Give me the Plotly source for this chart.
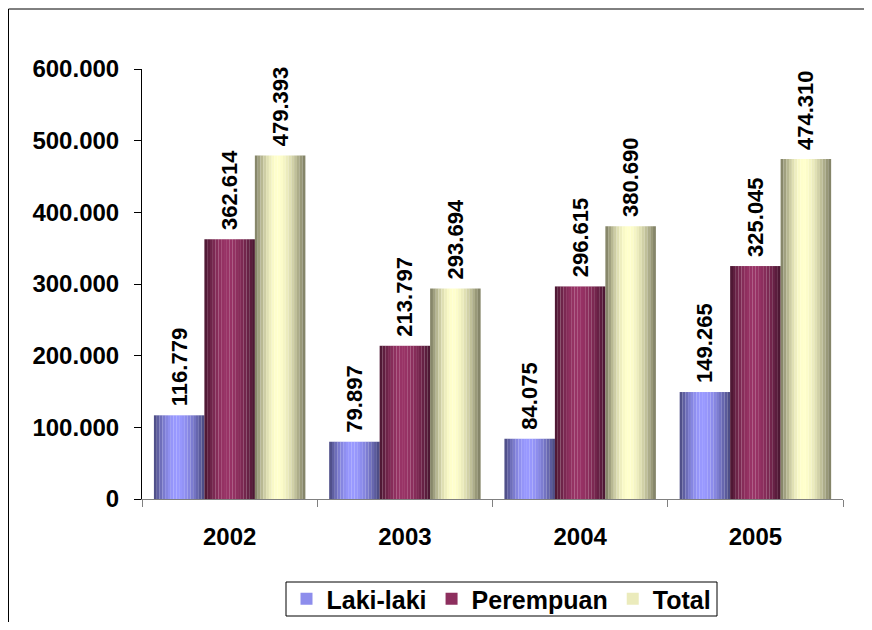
import math
import plotly.graph_objects as go

years = ["2002", "2003", "2004", "2005"]
series_names = ["Laki-laki", "Perempuan", "Total"]
laki = [116779, 79897, 84075, 149265]
perempuan = [362614, 213797, 296615, 325045]
total = [479393, 293694, 380690, 474310]
y_ticks = [0, 100000, 200000, 300000, 400000, 500000, 600000]

series_values = [laki, perempuan, total]
peak_colors = [(153, 153, 255), (153, 51, 102), (255, 255, 204)]
edge_colors = [(72, 72, 125), (72, 22, 48), (122, 122, 96)]

OFF = 8  # page body margin
W, H = 872 - 2 * OFF, 630 - 2 * OFF
PL, PR, PT, PB = 142 - OFF, 843 - OFF, 69 - OFF, 499 - OFF  # plot area, figure pixels


def px_x(p):  # page pixel -> paper x
    return (p - OFF - PL) / (PR - PL)


def px_y(p):  # page pixel -> paper y
    return (PB - (p - OFF)) / (PB - PT)


fig = go.Figure()

bw = 0.288
G = bw * 3
N = 18
peak = 0.45


def shade(t):
    d = (t - peak) / peak if t < peak else (t - peak) / (1 - peak)
    return 0.5 + 0.5 * math.cos(math.pi / 2 * d)


def mix(c0, c1, f):
    return "rgb(%d,%d,%d)" % tuple(round(a + (b - a) * f) for a, b in zip(c0, c1))


for s, (name, vals) in enumerate(zip(series_names, series_values)):
    start = -G / 2 + s * bw
    for k in range(N):
        t = (k + 0.5) / N
        f = (shade(t) - 0.5) / 0.5
        fig.add_trace(go.Bar(
            x=years, y=vals, offset=start + k * bw / N, width=bw / N * 1.02,
            marker=dict(color=mix(edge_colors[s], peak_colors[s], f), line=dict(width=0)),
            showlegend=False, hoverinfo="skip",
        ))
    # label trace
    fig.add_trace(go.Bar(
        x=years, y=vals, offset=start, width=bw, name=name,
        marker=dict(color="rgba(0,0,0,0)", line=dict(width=0)),
        text=vals, texttemplate="\u00a0%{y:,d}", textposition="outside", textangle=-90,
        constraintext="none", cliponaxis=False,
        textfont=dict(family="Liberation Sans, Arial", size=22, color="black", weight="bold"),
        showlegend=False,
    ))
    # legend entry
    fig.add_trace(go.Bar(
        x=[None], y=[None], name=name,
        marker=dict(color=mix(edge_colors[s], peak_colors[s], 0.85), line=dict(width=0)),
        showlegend=True,
    ))

# outer chart border (extends beyond the right/bottom of the window)
fig.add_shape(type="rect", xref="paper", yref="paper",
              x0=px_x(OFF + 0.5), x1=px_x(900), y0=px_y(9), y1=px_y(660),
              line=dict(color="black", width=1), fillcolor="rgba(0,0,0,0)", layer="below")
# legend box
fig.add_shape(type="rect", xref="paper", yref="paper",
              x0=px_x(286), x1=px_x(717), y0=px_y(582), y1=px_y(616),
              line=dict(color="black", width=1), fillcolor="white", layer="below")

fig.update_layout(
    width=W, height=H,
    margin=dict(l=PL, r=W - PR, t=PT, b=H - PB, pad=0, autoexpand=False),
    barmode="overlay",
    separators=",.",
    plot_bgcolor="white", paper_bgcolor="white",
    font=dict(family="Liberation Sans, Arial", color="black"),
    showlegend=True,
    legend=dict(orientation="h", x=px_x(501.5), xanchor="center",
                y=px_y(599), yanchor="middle",
                borderwidth=0, bgcolor="rgba(0,0,0,0)",
                font=dict(size=25, family="Liberation Sans, Arial", color="black", weight="bold"),
                itemwidth=30, tracegroupgap=0),
    xaxis=dict(type="category", showline=True, linecolor="#808080", linewidth=1,
               ticks="outside", ticklen=7, tickcolor="#808080", tickson="boundaries",
               tickfont=dict(size=24, weight="bold"), ticklabelstandoff=16,
               showgrid=False, zeroline=False, automargin=False),
    yaxis=dict(range=[0, 600000], tickvals=y_ticks, tickformat=",d",
               showline=True, linecolor="black", linewidth=1,
               ticks="outside", ticklen=7, tickcolor="black",
               tickfont=dict(size=24, weight="bold"), ticklabelstandoff=10,
               showgrid=False, zeroline=False, automargin=False),
)

fig.write_html("out.html")
